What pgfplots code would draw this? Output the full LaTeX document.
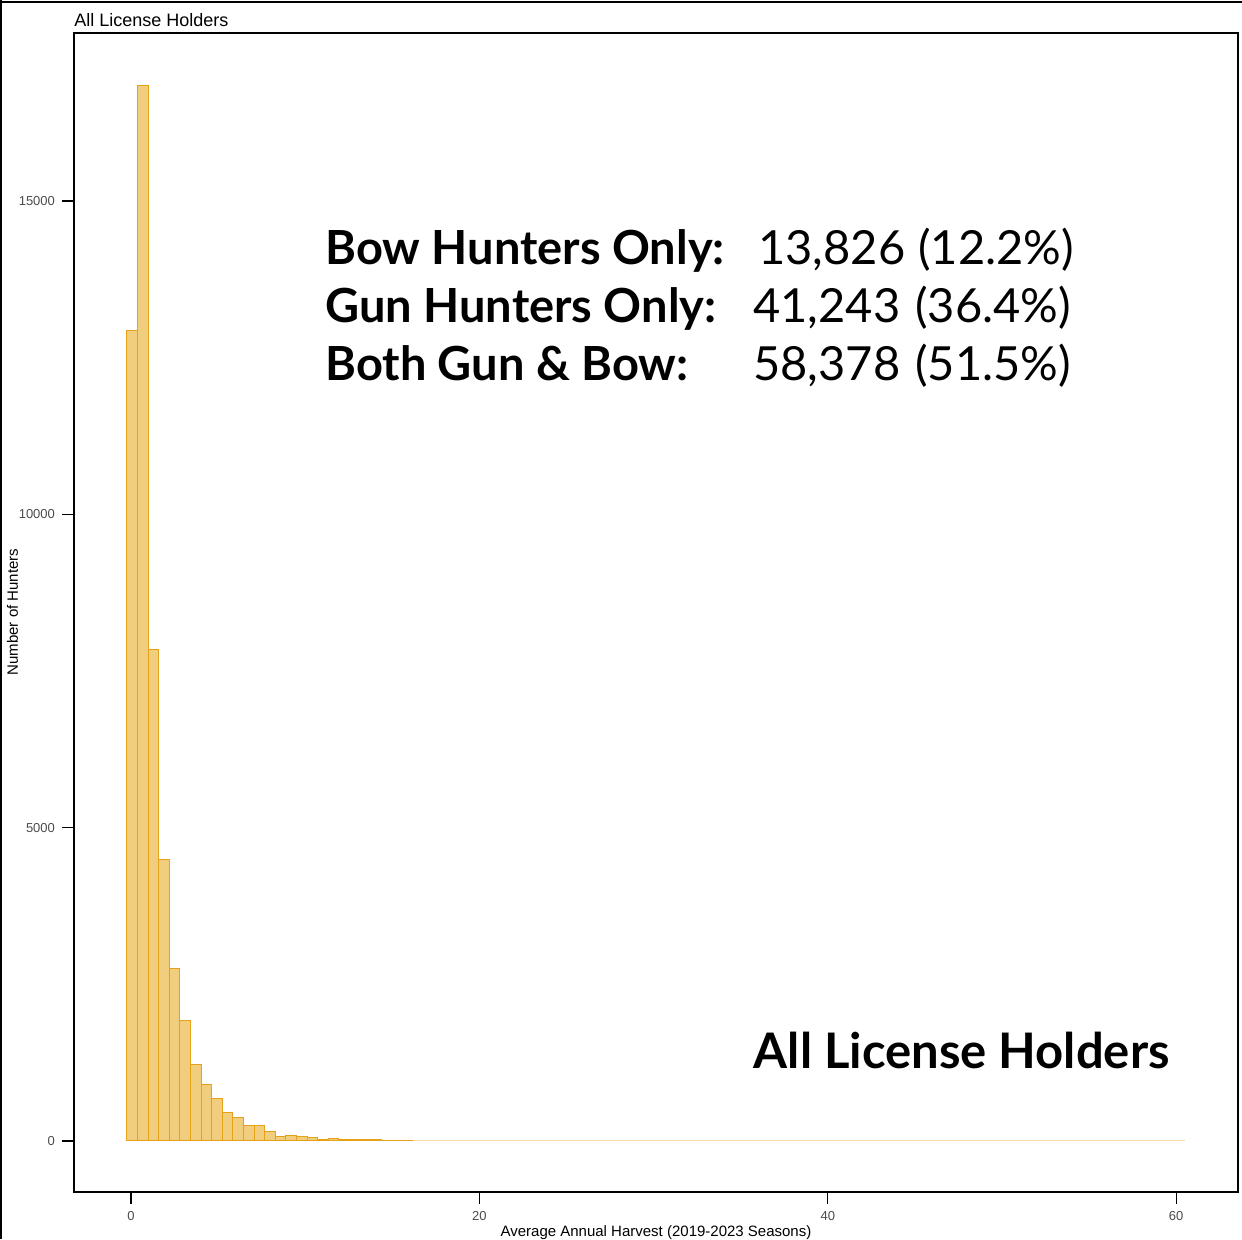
\documentclass[border=0pt]{standalone}
\usepackage{pgfplots}
\pgfplotsset{compat=1.18}
\usepackage{fontspec}
\setmainfont{Liberation Sans}
\newfontfamily\lato{Lato}
\definecolor{barfill}{HTML}{F1CE7E}
\definecolor{baredge}{HTML}{E6A11A}
\begin{document}
\begin{tikzpicture}
\useasboundingbox (-37pt,-23.5pt) rectangle (584pt,596pt);
\draw[line width=1pt] (-37pt,595pt) -- (584pt,595pt);
\draw[line width=1pt] (-36.5pt,-23.5pt) -- (-36.5pt,596pt);
\begin{axis}[at={(0,0)},anchor=south west,scale only axis,
 width=582pt,height=579.5pt,
 xmin=-3.27,xmax=63.55,ymin=-814,ymax=17680,
 xtick={0,20,40,60},ytick={0,5000,10000,15000},
 tick align=outside,tick pos=left,major tick length=6pt,
 xtick style={draw=black,line width=0.6pt},
 ytick style={draw=black,line width=0.6pt},
 scaled y ticks=false,
 /pgf/number format/assume math mode=true,
 /pgf/number format/set thousands separator={},
 tick label style={font=\fontsize{6.5}{7}\selectfont, text=black!70},
 xlabel={Average Annual Harvest (2019-2023 Seasons)},
 label style={font=\fontsize{7.5}{8}\selectfont},
 xlabel style={at={(rel axis cs:0.5,0)},anchor=base,yshift=-22pt},
 axis line style={black,line width=0.6pt},
 clip=false]
\addplot[ybar interval,fill=barfill,draw=baredge,line width=0.5pt] coordinates {
(-0.23,12925)(0.38,16835)(0.99,7835)(1.59,4484)(2.20,2760)(2.81,1915)(3.42,1223)(4.03,904)(4.63,676)(5.24,457)(5.85,377)(6.46,255)(7.07,255)(7.67,154)(8.28,74)(8.89,90)(9.50,74)(10.11,58)(10.71,27)(11.32,42)(11.93,27)(12.54,27)(13.15,27)(13.75,27)(14.36,5)(14.97,5)(15.58,15)(16.19,0)(60.5,0)};
\node[anchor=south west,font=\fontsize{9}{10}\selectfont,inner sep=0pt] at (rel axis cs:0,1) [yshift=3pt] {All License Holders};
\end{axis}
\node[rotate=90,anchor=base,inner sep=0pt,font=\fontsize{7.5}{8}\selectfont] at (-28pt,290pt) {Number of Hunters};
\begin{scope}[every node/.style={inner sep=0pt,anchor=base west,font=\lato\fontsize{23.5}{26}\selectfont}]
\node at (125.5pt,463.5pt) {\bfseries Bow Hunters Only:};
\node at (125.5pt,434.5pt) {\bfseries Gun Hunters Only:};
\node at (125.5pt,405.5pt) {\bfseries Both Gun \& Bow:};
\node at (342pt,463.5pt) {13,826};
\node at (339.5pt,434.5pt) {41,243};
\node at (339.5pt,405.5pt) {58,378};
\node at (422pt,463.5pt) {(12.2\%)};
\node at (420.5pt,434.5pt) {(36.4\%)};
\node at (420.5pt,405.5pt) {(51.5\%)};
\node[anchor=base east,font=\lato\fontsize{24.5}{26}\selectfont] at (548pt,62pt) {\bfseries All License Holders};
\end{scope}
\end{tikzpicture}
\end{document}
